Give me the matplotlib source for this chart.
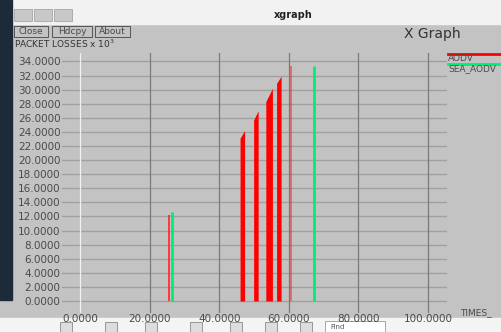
import matplotlib
matplotlib.use("Agg")
import matplotlib.pyplot as plt
from matplotlib.patches import Rectangle

# AODV packet losses: each bar spans two close samples (left, right)
aodv_x_left = [46.0, 49.9, 53.4, 56.5]
aodv_x_right = [47.3, 51.2, 55.3, 57.8]
aodv_y_left = [23.1, 25.7, 28.3, 30.9]
aodv_y_right = [24.2, 27.0, 30.2, 31.9]
# single AODV samples
aodv_single_x = [25.5]
aodv_single_y = [12.2]
# last faint AODV sample
aodv_last_x = [60.6]
aodv_last_y = [33.3]

# SEA_AODV packet losses
sea_x = [26.4, 67.3]
sea_y = [12.6, 33.3]

y_ticks = list(range(0, 36, 2))
x_ticks = [0, 20, 40, 60, 80, 100]

W, H = 501, 332
bg = "#c3c3c3"
txt = "#4a4a4a"

fig = plt.figure(figsize=(W / 100, H / 100), dpi=100, facecolor=bg)

def px(x, y, w, h):
    # pixel box (top-left origin) -> figure fraction
    return [x / W, 1 - (y + h) / H, w / W, h / H]

# window chrome
chrome = fig.add_axes([0, 0, 1, 1], zorder=-1)
chrome.set_xlim(0, W)
chrome.set_ylim(H, 0)
chrome.axis("off")
chrome.add_patch(Rectangle((0, 0), W, 24, color="#f2f2f2"))
chrome.add_patch(Rectangle((0, 0), 12, 300, color="#1d2a3a"))
chrome.add_patch(Rectangle((0, 318), W, 14, color="#f4f4f4"))
for bx in [14, 34, 54]:
    chrome.add_patch(Rectangle((bx, 9), 18, 12, facecolor="#c8c8c8", edgecolor="#9a9a9a", lw=0.5))
chrome.text(293, 15, "xgraph", ha="center", va="center", fontsize=7, fontweight="bold", color="#222222")
for label, bx, bw in [("Close", 14, 34), ("Hdcpy", 52, 40), ("About", 95, 35)]:
    chrome.add_patch(Rectangle((bx, 26), bw, 11, facecolor=bg, edgecolor="#555555", lw=0.7))
    chrome.text(bx + bw / 2, 31.5, label, ha="center", va="center", fontsize=6.5, color=txt)
chrome.text(14, 44, "PACKET LOSSES x 10$^3$", ha="left", va="center", fontsize=6.5, color="#333333")
chrome.text(404, 34, "X Graph", ha="left", va="center", fontsize=10, color="#333333")
chrome.text(460, 313, "TIMES_", ha="left", va="center", fontsize=6.5, color=txt)
# legend
chrome.plot([448, 501], [54, 54], color="#ff0000", lw=2)
chrome.text(448, 58.5, "AODV", ha="left", va="center", fontsize=6.5, color=txt)
chrome.plot([448, 501], [64, 64], color="#00ee76", lw=2)
chrome.text(448, 68.5, "SEA_AODV", ha="left", va="center", fontsize=6.5, color=txt)
# toolbar bits
for bx in [60, 105, 145, 190, 230, 265, 300]:
    chrome.add_patch(Rectangle((bx, 322), 12, 10, facecolor="#dddddd", edgecolor="#777777", lw=0.5))
chrome.add_patch(Rectangle((325, 321), 60, 11, facecolor="white", edgecolor="#888888", lw=0.5))
chrome.text(330, 327, "Find", fontsize=5, va="center", color="#555555")

# plot area
ax = fig.add_axes(px(62, 53, 385, 260))
ax.set_facecolor(bg)
ax.set_xlim(-5.2, 105.5)
ax.set_ylim(-1.7, 35.2)
for s in ax.spines.values():
    s.set_visible(False)

for yv in y_ticks:
    ax.axhline(yv, color="#a0a0a0", lw=1.0, zorder=1)
for xv in x_ticks:
    ax.axvline(xv, color="#f2f2f2" if xv == 0 else "#7a7a7a", lw=0.9, zorder=1)

for xl, xr, yl, yr in zip(aodv_x_left, aodv_x_right, aodv_y_left, aodv_y_right):
    ax.fill_between([xl, xr], [yl, yr], 0, color="#ff0000", lw=0, zorder=3)
ax.vlines(aodv_single_x, 0, aodv_single_y, color="#ff3030", lw=1.3, zorder=3)
ax.vlines(aodv_last_x, 0, aodv_last_y, color="#ff0000", alpha=0.5, lw=1.2, zorder=3)
ax.vlines(sea_x, 0, sea_y, color="#00ee76", lw=2.0, zorder=4)

ax.set_yticks(y_ticks)
ax.set_yticklabels([f"{v:.4f}" for v in y_ticks])
ax.set_xticks(x_ticks)
ax.set_xticklabels([f"{v:.4f}" for v in x_ticks])
ax.tick_params(length=0, labelsize=7.5, labelcolor=txt)
ax.tick_params(axis="y", pad=1)
ax.tick_params(axis="x", pad=1)

fig.savefig("out.png", dpi=100, facecolor=bg)
